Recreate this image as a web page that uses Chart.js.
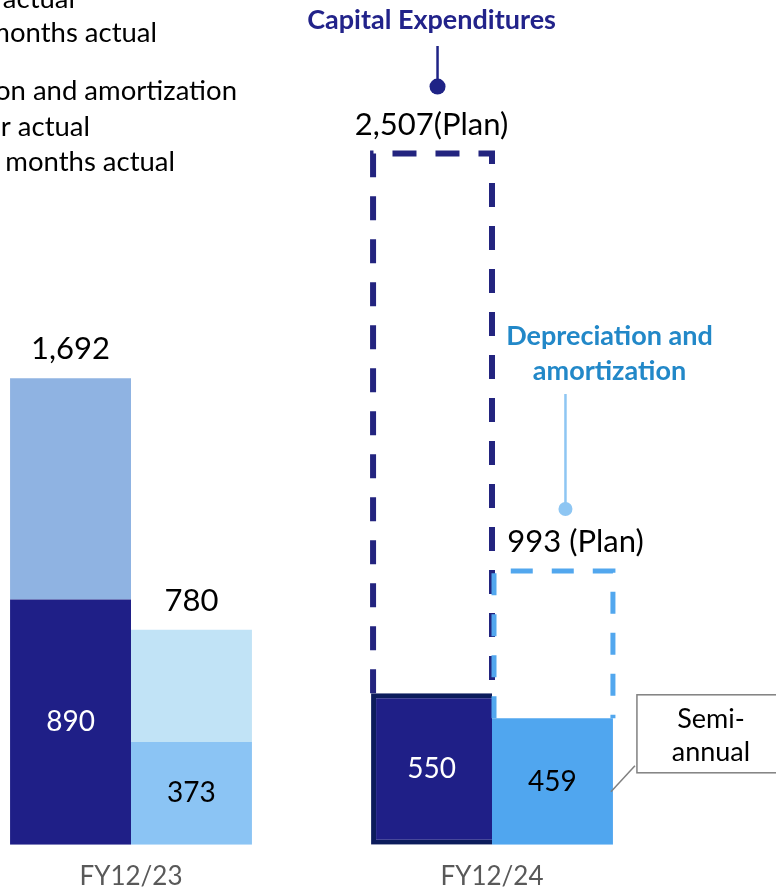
<!DOCTYPE html>
<html>
<head>
<meta charset="utf-8">
<script src="https://cdn.jsdelivr.net/npm/chart.js@4/dist/chart.umd.min.js"></script>
<style>
  body { margin: 0; background: #fff; }
  #wrap { position: relative; width: 776px; height: 890px; overflow: hidden; background: #fff; }
  #capex-chart { position: absolute; left: -60px; top: 0; }
</style>
</head>
<body>
<div id="wrap">
  <canvas id="capex-chart" width="836" height="910"></canvas>
</div>
<script>
// capex / D&A - semestre real vs ano completo e plano

const categories = ['FY12/23', 'FY12/24'];
const capexHalf = [890, 550];      // primeiro semestre (real)
const capexFull = [1692, null];    // ano completo (real)
const capexPlan = [null, 2507];    // plano
const daHalf = [373, 459];
const daFull = [780, null];
const daPlan = [null, 993];

const legendLines = [
    { text: 'Full year actual', x: 75, y: 8 },
    { text: 'First six months actual', x: 157, y: 42 },
    { text: 'Depreciation and amortization', x: 237, y: 100 },
    { text: 'Full year actual', x: 90, y: 136 },
    { text: 'First six months actual', x: 175, y: 171 }
];

const SHIFT = 60; // canvas começa 60px à esquerda da página
const FONT = 'Lato, "Open Sans", sans-serif';

// segmento flutuante entre o semestre e o total
const upper = (half, total) => half.map((h, i) => total[i] == null ? null : [h, total[i]]);
const fmt = v => v.toLocaleString('en-US');

const annotate = {
    id: 'annotate',
    afterDatasetsDraw(chart) {
        const ctx = chart.ctx;
        const area = chart.chartArea;
        const meta = i => chart.getDatasetMeta(i).data;
        const ds = chart.data.datasets;

        ctx.save();

        // caixas tracejadas do plano
        [[2, '#23247f', 6, [24, 19]], [5, '#52a7ee', 5, [22, 19]]].forEach(([idx, color, lw, dash]) => {
            meta(idx).forEach((el, j) => {
                if (ds[idx].data[j] == null) return;
                const l = el.x - el.width / 2 + 2, r = el.x + el.width / 2;
                ctx.beginPath();
                ctx.setLineDash(dash);
                ctx.lineWidth = lw;
                ctx.strokeStyle = color;
                ctx.moveTo(l, el.base);
                ctx.lineTo(l, el.y);
                ctx.lineTo(r, el.y);
                ctx.lineTo(r, el.base);
                ctx.stroke();
            });
        });
        ctx.setLineDash([]);

        // valores dentro das barras do semestre
        ctx.textAlign = 'center';
        ctx.textBaseline = 'middle';
        ctx.font = '28px ' + FONT;
        [[0, '#ffffff'], [3, '#000000']].forEach(([idx, color]) => {
            meta(idx).forEach((el, j) => {
                ctx.fillStyle = color;
                ctx.fillText(fmt(ds[idx].data[j]), el.x, (el.y + el.base) / 2);
            });
        });

        // totais acima das barras
        ctx.font = '31px ' + FONT;
        ctx.fillStyle = '#000';
        [[1, capexFull, '', 0], [4, daFull, '', 0], [2, capexPlan, '(Plan)', 0], [5, daPlan, ' (Plan)', 23]]
            .forEach(([idx, vals, suffix, dx]) => {
                meta(idx).forEach((el, j) => {
                    if (vals[j] == null) return;
                    ctx.fillText(fmt(vals[j]) + suffix, el.x + dx, el.y - 29);
                });
            });

        // chamada: Capital Expenditures
        const cp = meta(2)[1];
        const cpDot = cp.y - 29 - 38;
        ctx.font = 'bold 27px ' + FONT;
        ctx.fillStyle = '#22238a';
        ctx.fillText('Capital Expenditures', cp.x, 20);
        ctx.strokeStyle = '#1f2386';
        ctx.lineWidth = 2.5;
        ctx.beginPath();
        ctx.moveTo(cp.x + 6, 46);
        ctx.lineTo(cp.x + 6, cpDot);
        ctx.stroke();
        ctx.beginPath();
        ctx.arc(cp.x + 6, cpDot, 8, 0, Math.PI * 2);
        ctx.fillStyle = '#1f2386';
        ctx.fill();

        // chamada: Depreciation and amortization
        const dp = meta(5)[1];
        ctx.fillStyle = '#2288c8';
        ctx.fillText('Depreciation and', dp.x + 57, dp.y - 235);
        ctx.fillText('amortization', dp.x + 57, dp.y - 200);
        ctx.strokeStyle = '#8ec6f3';
        ctx.beginPath();
        ctx.moveTo(dp.x + 13, dp.y - 177);
        ctx.lineTo(dp.x + 13, dp.y - 62);
        ctx.stroke();
        ctx.beginPath();
        ctx.arc(dp.x + 13, dp.y - 62, 7, 0, Math.PI * 2);
        ctx.fillStyle = '#8ec6f3';
        ctx.fill();

        // caixa "Semi-annual"
        const dh = meta(3)[1];
        const right = dh.x + dh.width / 2;
        const bx = right + 24, by = area.bottom - 150;
        ctx.strokeStyle = '#808080';
        ctx.lineWidth = 1.5;
        ctx.fillStyle = '#fff';
        ctx.fillRect(bx, by, 140, 78);
        ctx.strokeRect(bx, by, 140, 78);
        ctx.beginPath();
        ctx.moveTo(right - 2, area.bottom - 53);
        ctx.lineTo(bx - 2, area.bottom - 79);
        ctx.stroke();
        ctx.fillStyle = '#000';
        ctx.font = '27px ' + FONT;
        ctx.fillText('Semi-', bx + 74, by + 24);
        ctx.fillText('annual', bx + 74, by + 57);

        // legenda (cortada na borda esquerda, como no original)
        ctx.font = '27.5px ' + FONT;
        ctx.textAlign = 'right';
        ctx.textBaseline = 'alphabetic';
        ctx.fillStyle = '#000';
        legendLines.forEach(l => ctx.fillText(l.text, l.x + SHIFT, l.y));

        ctx.restore();
    }
};

Chart.defaults.font.family = FONT;

const ctx = document.getElementById('capex-chart').getContext('2d');
new Chart(ctx, {
    type: 'bar',
    data: {
        labels: categories,
        datasets: [
            { label: 'Capex H1', data: capexHalf, stack: 'capex', backgroundColor: '#1f1f87',
              borderColor: '#0c1c5c', borderWidth: [0, { left: 5, top: 5, bottom: 5, right: 0 }], borderSkipped: false },
            { label: 'Capex FY', data: upper(capexHalf, capexFull), stack: 'capex', backgroundColor: '#8fb3e2' },
            { label: 'Capex plan', data: upper(capexHalf, capexPlan), stack: 'capex', backgroundColor: 'rgba(0,0,0,0)' },
            { label: 'D&A H1', data: daHalf, stack: 'da', backgroundColor: ['#8bc4f4', '#50a6ef'] },
            { label: 'D&A FY', data: upper(daHalf, daFull), stack: 'da', backgroundColor: '#c1e3f6' },
            { label: 'D&A plan', data: upper(daHalf, daPlan), stack: 'da', backgroundColor: 'rgba(0,0,0,0)' }
        ]
    },
    options: {
        responsive: false,
        animation: false,
        layout: { padding: { left: 10.5, right: 103.5, top: 150, bottom: 2 } },
        datasets: { bar: { barPercentage: 1, categoryPercentage: 0.67 } },
        plugins: {
            legend: { display: false },
            tooltip: { enabled: false }
        },
        scales: {
            x: {
                stacked: true,
                grid: { display: false, drawTicks: false },
                border: { display: false },
                ticks: { color: '#595959', font: { size: 26 }, padding: 16 }
            },
            y: {
                display: false,
                stacked: false,
                min: 0,
                max: 2520
            }
        }
    },
    plugins: [annotate]
});
</script>
</body>
</html>
